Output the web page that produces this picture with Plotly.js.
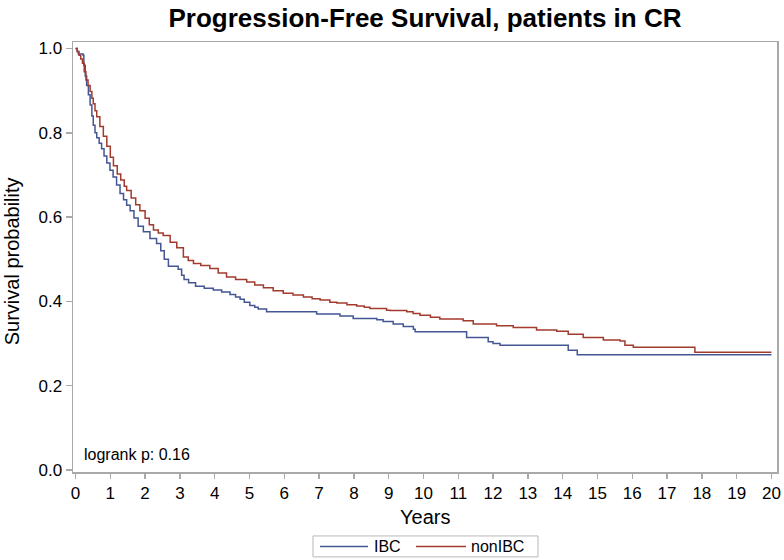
<!DOCTYPE html>
<html>
<head>
<meta charset="utf-8">
<script src="https://cdn.plot.ly/plotly-3.0.1.min.js"></script>
<style>html,body{margin:0;padding:0;background:#fff;}#chart{width:784px;height:560px;}</style>
</head>
<body>
<div id="chart"></div>
<script>
// IBC (blue) Kaplan-Meier step points: time in years, survival probability
const ibcTime = [0, 0.05, 0.08, 0.22, 0.24, 0.28, 0.32, 0.37, 0.42, 0.47, 0.51, 0.56, 0.61, 0.68, 0.75, 0.82, 0.90, 0.99, 1.08, 1.18, 1.28, 1.38, 1.47, 1.57, 1.68, 1.80, 1.95, 2.14, 2.33, 2.45, 2.55, 2.67, 2.95, 3.05, 3.12, 3.25, 3.45, 3.70, 3.96, 4.20, 4.44, 4.60, 4.73, 4.85, 5.01, 5.15, 5.25, 5.49, 6.93, 7.60, 7.98, 8.66, 8.84, 9.13, 9.42, 9.71, 9.76, 11.24, 11.86, 12.00, 12.20, 14.16, 14.42, 20.0];
const ibcSurv = [1.0, 0.993, 0.987, 0.984, 0.960, 0.935, 0.912, 0.890, 0.866, 0.840, 0.818, 0.800, 0.788, 0.775, 0.762, 0.745, 0.728, 0.711, 0.695, 0.676, 0.656, 0.641, 0.628, 0.615, 0.598, 0.578, 0.565, 0.549, 0.537, 0.520, 0.500, 0.483, 0.476, 0.462, 0.452, 0.444, 0.436, 0.431, 0.427, 0.422, 0.416, 0.410, 0.405, 0.398, 0.390, 0.386, 0.382, 0.375, 0.370, 0.365, 0.359, 0.356, 0.352, 0.346, 0.340, 0.334, 0.328, 0.314, 0.304, 0.300, 0.296, 0.284, 0.273, 0.273];

// nonIBC (red) Kaplan-Meier step points
const nonIbcTime = [0, 0.05, 0.10, 0.15, 0.20, 0.25, 0.30, 0.36, 0.42, 0.47, 0.51, 0.56, 0.61, 0.70, 0.80, 0.90, 1.00, 1.09, 1.20, 1.30, 1.40, 1.47, 1.60, 1.73, 1.85, 2.00, 2.12, 2.24, 2.38, 2.52, 2.72, 2.91, 3.10, 3.24, 3.39, 3.60, 3.86, 4.10, 4.34, 4.60, 4.92, 5.15, 5.40, 5.68, 5.97, 6.25, 6.55, 6.80, 7.03, 7.31, 7.51, 7.80, 8.08, 8.30, 8.46, 8.94, 9.04, 9.52, 9.70, 9.90, 10.20, 10.47, 11.14, 11.43, 12.10, 12.58, 13.25, 13.83, 14.16, 14.59, 15.17, 15.65, 15.79, 16.03, 17.80, 20.0];
const nonIbcSurv = [1.0, 0.993, 0.984, 0.975, 0.965, 0.945, 0.925, 0.912, 0.898, 0.882, 0.869, 0.852, 0.838, 0.815, 0.792, 0.768, 0.742, 0.722, 0.702, 0.688, 0.673, 0.663, 0.645, 0.629, 0.615, 0.597, 0.582, 0.569, 0.562, 0.556, 0.540, 0.527, 0.505, 0.497, 0.490, 0.485, 0.478, 0.467, 0.458, 0.452, 0.446, 0.439, 0.432, 0.425, 0.419, 0.415, 0.410, 0.406, 0.403, 0.398, 0.396, 0.392, 0.389, 0.386, 0.383, 0.379, 0.378, 0.375, 0.371, 0.367, 0.362, 0.358, 0.354, 0.346, 0.342, 0.338, 0.332, 0.329, 0.322, 0.314, 0.308, 0.306, 0.296, 0.291, 0.279, 0.279];

const seriesNames = ['IBC', 'nonIBC'];
const seriesColors = ['#445694', '#A23A2E'];
const xTickVals = [0,1,2,3,4,5,6,7,8,9,10,11,12,13,14,15,16,17,18,19,20];
const yTickVals = [0.0, 0.2, 0.4, 0.6, 0.8, 1.0];
const yTickText = ['0.0', '0.2', '0.4', '0.6', '0.8', '1.0'];
const titleText = 'Progression-Free Survival, patients in CR';
const xTitle = 'Years';
const yTitle = 'Survival probability';
const noteText = 'logrank p: 0.16';

const FONT = 'Liberation Sans, Arial, sans-serif';
const AXC = '#a9a9a9';

const traces = [
  {x: ibcTime, y: ibcSurv, name: seriesNames[0], type: 'scatter', mode: 'lines',
   line: {shape: 'hv', color: seriesColors[0], width: 1.5}},
  {x: nonIbcTime, y: nonIbcSurv, name: seriesNames[1], type: 'scatter', mode: 'lines',
   line: {shape: 'hv', color: seriesColors[1], width: 1.5}}
];

// legend drawn below the plot (paper coordinates)
const LY0 = -0.1974, LY1 = -0.1487, LYM = -0.1731;
const legendShapes = [
  {type: 'rect', xref: 'paper', yref: 'paper', x0: 0.3409, x1: 0.6605, y0: LY0, y1: LY1,
   line: {color: '#b8b8b8', width: 1}, fillcolor: 'rgba(0,0,0,0)'},
  {type: 'line', xref: 'paper', yref: 'paper', x0: 0.3509, x1: 0.4190, y0: LYM, y1: LYM,
   line: {color: seriesColors[0], width: 1.5}},
  {type: 'line', xref: 'paper', yref: 'paper', x0: 0.4872, x1: 0.5582, y0: LYM, y1: LYM,
   line: {color: seriesColors[1], width: 1.5}}
];

const layout = {
  width: 784, height: 560,
  paper_bgcolor: '#fff', plot_bgcolor: '#fff',
  margin: {l: 73, r: 7, t: 42, b: 88},
  font: {family: FONT, color: '#000', size: 16},
  title: {text: '<b>' + titleText + '</b>', font: {family: FONT, size: 26, color: '#000'},
          x: 0.5, xref: 'paper', xanchor: 'center', y: 1 - 18/560, yref: 'container', yanchor: 'middle'},
  xaxis: {range: [-0.072, 20.16], tickvals: xTickVals, ticks: 'outside', ticklen: 5, tickwidth: 1.5,
          tickcolor: AXC, showline: true, linecolor: AXC, linewidth: 1.5, mirror: true,
          showgrid: false, zeroline: false, tickfont: {size: 17}, automargin: false},
  yaxis: {range: [-0.005, 1.0154], tickvals: yTickVals, ticktext: yTickText, ticks: 'outside', ticklen: 6,
          tickwidth: 1.5, tickcolor: AXC, showline: true, linecolor: AXC, linewidth: 1.5, mirror: true,
          showgrid: false, zeroline: false, tickfont: {size: 17}, automargin: false},
  showlegend: false,
  shapes: legendShapes,
  annotations: [
    {text: noteText, xref: 'paper', yref: 'paper', x: 0.013, y: 0.04, xanchor: 'left', yanchor: 'middle',
     showarrow: false, font: {size: 16}},
    {text: xTitle, xref: 'paper', yref: 'paper', x: 0.5, y: -45/430, xanchor: 'center', yanchor: 'middle',
     showarrow: false, font: {size: 20}},
    {text: yTitle, xref: 'paper', yref: 'paper', x: -61/704, y: 0.49, xanchor: 'center', yanchor: 'middle',
     textangle: -90, showarrow: false, font: {size: 20}},
    {text: seriesNames[0], xref: 'paper', yref: 'paper', x: 0.4261, y: LYM, xanchor: 'left', yanchor: 'middle',
     showarrow: false, font: {size: 16}, xshift: -1},
    {text: seriesNames[1], xref: 'paper', yref: 'paper', x: 0.5639, y: LYM, xanchor: 'left', yanchor: 'middle',
     showarrow: false, font: {size: 16}, xshift: -1}
  ]
};

Plotly.newPlot('chart', traces, layout, {staticPlot: true, displayModeBar: false});
</script>
</body>
</html>
